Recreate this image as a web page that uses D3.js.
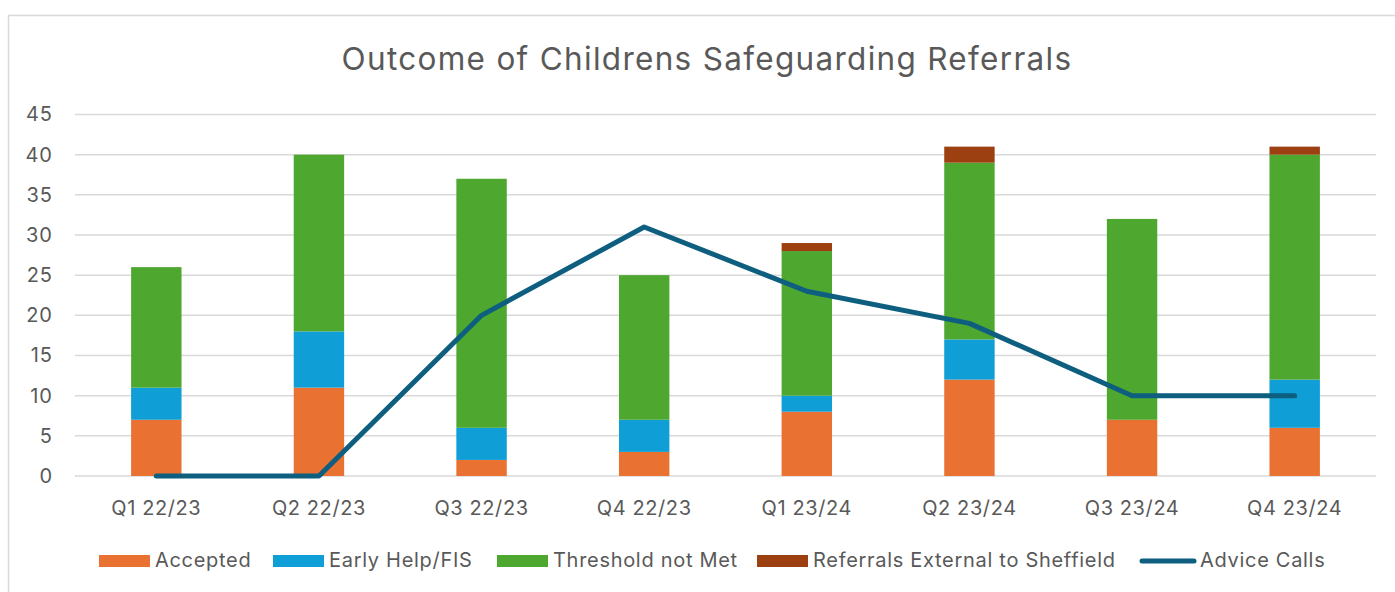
<!DOCTYPE html>
<html><head><meta charset="utf-8">
<script src="https://cdn.jsdelivr.net/npm/d3@7"></script>
<style>html,body{margin:0;padding:0;background:#fff;}svg{display:block;}</style>
</head><body>
<script>
const categories = ["Q1 22/23","Q2 22/23","Q3 22/23","Q4 22/23","Q1 23/24","Q2 23/24","Q3 23/24","Q4 23/24"];
const accepted = [7, 11, 2, 3, 8, 12, 7, 6];
const earlyHelp = [4, 7, 4, 4, 2, 5, 0, 6];
const thresholdNotMet = [15, 22, 31, 18, 18, 22, 25, 28];
const externalSheffield = [0, 0, 0, 0, 1, 2, 0, 1];
const adviceCalls = [0, 0, 20, 31, 23, 19, 10, 10];
const yTicks = [0,5,10,15,20,25,30,35,40,45];
const seriesNames = ["Accepted","Early Help/FIS","Threshold not Met","Referrals External to Sheffield"];
const lineName = "Advice Calls";
const colors = ["#E97132","#0F9ED5","#4EA72E","#9C4012"];
const lineColor = "#0E5F7F";

const W = 1395, H = 592;
const svg = d3.select("body").append("svg").attr("width", W).attr("height", H);
const font = "Inter, 'Open Sans', Arial, sans-serif";
const txt = "#595959";

svg.append("rect").attr("x", 8.5).attr("y", 15.5).attr("width", 1395).attr("height", 600)
  .attr("fill", "#fff").attr("stroke", "#d9d9d9").attr("stroke-width", 1.5);

svg.append("text").attr("x", 707).attr("y", 69.5).attr("text-anchor", "middle")
  .attr("font-family", font).attr("font-size", 31.5).attr("letter-spacing", 1.3).attr("fill", txt)
  .text("Outcome of Childrens Safeguarding Referrals");

const x = d3.scaleBand().domain(categories).range([75, 1376]).paddingInner(0.69).paddingOuter(0.345);
const y = d3.scaleLinear().domain([0, 45]).range([476, 114.5]);

// gridlines
svg.append("g").selectAll("line").data(yTicks).join("line")
  .attr("x1", 75).attr("x2", 1376).attr("y1", d => y(d)).attr("y2", d => y(d))
  .attr("stroke", "#d9d9d9").attr("stroke-width", 1.5);

// y axis
const yAxis = svg.append("g").attr("transform", "translate(59,0)")
  .call(d3.axisLeft(y).tickValues(yTicks).tickSize(0).tickPadding(6));
yAxis.select(".domain").remove();
yAxis.selectAll("text").attr("font-family", font).attr("font-size", 20).attr("letter-spacing", 1).attr("fill", txt);

// x axis
const xAxis = svg.append("g").attr("transform", "translate(0,476)")
  .call(d3.axisBottom(x).tickSize(0).tickPadding(25));
xAxis.select(".domain").remove();
xAxis.selectAll("text").attr("font-family", font).attr("font-size", 20).attr("letter-spacing", 0.6).attr("fill", txt);

// stacked bars
const rows = categories.map((c, i) => ({cat: c, s0: accepted[i], s1: earlyHelp[i], s2: thresholdNotMet[i], s3: externalSheffield[i]}));
const stack = d3.stack().keys(["s0","s1","s2","s3"])(rows);
svg.append("g").selectAll("g").data(stack).join("g")
  .attr("fill", (d, i) => colors[i])
  .selectAll("rect").data(d => d).join("rect")
  .attr("x", d => x(d.data.cat)).attr("width", x.bandwidth())
  .attr("y", d => y(d[1])).attr("height", d => y(d[0]) - y(d[1]));

// line
const line = d3.line().x((d, i) => x(categories[i]) + x.bandwidth() / 2).y(d => y(d));
svg.append("path").datum(adviceCalls).attr("d", line)
  .attr("fill", "none").attr("stroke", lineColor).attr("stroke-width", 5)
  .attr("stroke-linecap", "round").attr("stroke-linejoin", "round");

// legend
const legX = [99, 273, 497, 757];
const lg = svg.append("g");
seriesNames.forEach((n, i) => {
  lg.append("rect").attr("x", legX[i]).attr("y", 555).attr("width", 51).attr("height", 12).attr("fill", colors[i]);
  lg.append("text").attr("x", legX[i] + 56).attr("y", 567.3).attr("font-family", font)
    .attr("font-size", 20).attr("letter-spacing", 0.7).attr("fill", txt).text(n);
});
lg.append("line").attr("x1", 1142).attr("x2", 1194).attr("y1", 561).attr("y2", 561)
  .attr("stroke", lineColor).attr("stroke-width", 5).attr("stroke-linecap", "round");
lg.append("text").attr("x", 1200).attr("y", 567.3).attr("font-family", font)
  .attr("font-size", 20).attr("letter-spacing", 0.7).attr("fill", txt).text(lineName);
</script>
</body></html>
